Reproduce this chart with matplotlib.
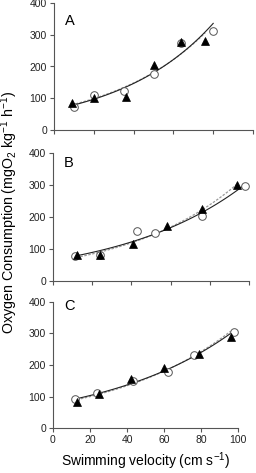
import numpy as np
import matplotlib

matplotlib.use("Agg")
import matplotlib.pyplot as plt

plt.rcParams["font.family"] = ["Liberation Sans", "DejaVu Sans"]
plt.rcParams["mathtext.fontset"] = "custom"
plt.rcParams["mathtext.rm"] = "Liberation Sans"
plt.rcParams["mathtext.it"] = "Liberation Sans:italic"

# Panel data: open circles and filled triangles
a_circ_x = [10, 20, 35, 50, 64, 80]
a_circ_y = [73, 110, 122, 176, 275, 311]
a_tri_x = [9, 20, 36, 50, 64, 76]
a_tri_y = [85, 101, 105, 204, 277, 281]

b_circ_x = [11, 24, 43, 52, 76, 98]
b_circ_y = [78, 83, 156, 149, 203, 298]
b_tri_x = [12, 24, 41, 58, 76, 94]
b_tri_y = [80, 83, 116, 173, 224, 302]

c_circ_x = [12, 24, 43, 62, 76, 98]
c_circ_y = [91, 110, 148, 179, 233, 305]
c_tri_x = [13, 25, 42, 60, 79, 96]
c_tri_y = [82, 108, 155, 192, 234, 289]

# (label, data..., axes box in pixels [left, right, bottom, top], label top px, show x labels)
panels = [
    ("A", a_circ_x, a_circ_y, a_tri_x, a_tri_y, [54, 253, 130, 3], 16, False),
    ("B", b_circ_x, b_circ_y, b_tri_x, b_tri_y, [53, 249, 281, 153.3], 158, False),
    ("C", c_circ_x, c_circ_y, c_tri_x, c_tri_y, [53, 238, 428.3, 301.7], 301, True),
]

W, H = 256, 473
fig = plt.figure(figsize=(W / 100, H / 100), dpi=100)


def exp_fit(x, y):
    x = np.asarray(x, float)
    b, lna = np.polyfit(x, np.log(y), 1)
    xs = np.linspace(x.min(), x.max(), 100)
    return xs, np.exp(lna) * np.exp(b * xs)


for label, cx, cy, tx, ty, (l, r, bot, top), ltop, show_x in panels:
    ax = fig.add_axes([l / W, (H - bot) / H, (r - l) / W, (bot - top) / H])
    xs, ys = exp_fit(tx, ty)
    ax.plot(xs, ys, color="#9a9a9a", lw=0.9, ls=(0, (2, 1.2)), zorder=2)
    xs, ys = exp_fit(cx, cy)
    ax.plot(xs, ys, color="#222222", lw=0.8, zorder=2)
    ax.plot(cx, cy, "o", ms=5.5, mfc="white", mec="#555555", mew=0.7, zorder=3)
    ax.plot(tx, ty, "^", ms=5.5, mfc="black", mec="black", mew=0.5, zorder=4)
    ax.set_xlim(0, 100)
    ax.set_ylim(0, 400)
    ax.set_xticks(range(0, 101, 20))
    ax.set_yticks(range(0, 401, 100))
    if not show_x:
        ax.set_xticklabels([])
    for side in ("top", "right"):
        ax.spines[side].set_visible(False)
    for side in ("left", "bottom"):
        ax.spines[side].set_linewidth(0.8)
        ax.spines[side].set_color("#555555")
    ax.tick_params(labelsize=7.5, length=3, width=0.8, color="#555555",
                   labelcolor="#222222", pad=2)
    fig.text((l + 11) / W, 1 - (ltop - 2) / H, label, fontsize=10.5,
             ha="left", va="top")
    if show_x:
        ax.set_xlabel("Swimming velocity (cm s$^{-1}$)", fontsize=10, labelpad=4)

fig.text(9.5 / W, 1 - 212 / H,
         "Oxygen Consumption (mgO$_2$ kg$^{-1}$ h$^{-1}$)",
         rotation=90, ha="center", va="center", fontsize=10.3)

fig.savefig("out.png", dpi=100)
